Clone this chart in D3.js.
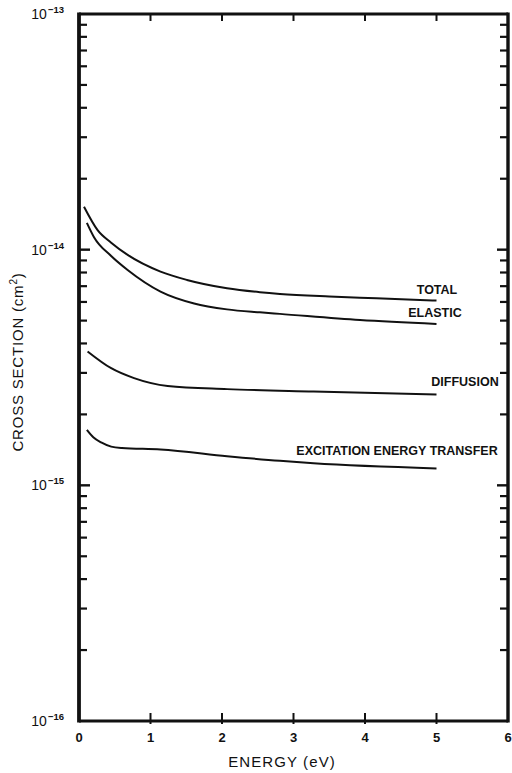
<!DOCTYPE html>
<html>
<head>
<meta charset="utf-8">
<script src="https://cdn.jsdelivr.net/npm/d3@7"></script>
<style>
  html, body { margin: 0; padding: 0; background: #fff; }
  svg { display: block; }
  text { font-family: "Liberation Sans", Arial, sans-serif; fill: #111; }
</style>
</head>
<body>
<svg id="chart" width="512" height="773"></svg>
<script>
// Energy grid (eV) and cross sections (cm^2) for each process
const totalE     = [0.07, 0.26, 0.45, 0.68, 1.14, 1.51, 2.07, 2.53, 2.81, 3.5, 4.16, 5.0];
const totalV     = [1.52e-14, 1.21e-14, 1.07e-14, 9.5e-15, 8.07e-15, 7.44e-15, 6.86e-15, 6.6e-15, 6.49e-15, 6.33e-15, 6.22e-15, 6.08e-15];

const elasticE   = [0.11, 0.21, 0.45, 0.68, 1.14, 1.61, 2.07, 2.53, 2.81, 3.93, 5.0];
const elasticV   = [1.30e-14, 1.13e-14, 9.4e-15, 8.2e-15, 6.64e-15, 5.91e-15, 5.58e-15, 5.42e-15, 5.34e-15, 5.03e-15, 4.84e-15];

const diffusionE = [0.12, 0.45, 0.77, 1.24, 2.07, 3.28, 5.0];
const diffusionV = [3.70e-15, 3.14e-15, 2.85e-15, 2.64e-15, 2.56e-15, 2.50e-15, 2.43e-15];

const excitE     = [0.11, 0.2, 0.31, 0.45, 0.6, 1.14, 2.07, 2.81, 3.28, 5.0];
const excitV     = [1.72e-15, 1.60e-15, 1.52e-15, 1.46e-15, 1.44e-15, 1.42e-15, 1.33e-15, 1.27e-15, 1.24e-15, 1.18e-15];

const seriesNames = ["TOTAL", "ELASTIC", "DIFFUSION", "EXCITATION ENERGY TRANSFER"];

const xTicks = [0, 1, 2, 3, 4, 5, 6];
const yDecades = [-16, -15, -14, -13];

const svg = d3.select("#chart");
const x = d3.scaleLinear().domain([0, 6]).range([79, 508]);
const y = d3.scaleLog().domain([1e-16, 1e-13]).range([721, 14]);

const [x0, x1] = x.range();
const [yb, yt] = y.range();
const ink = "#111";

// minor ticks at 2..9 within each decade
const minor = [];
for (let d = -16; d < -13; d++) {
  for (let m = 2; m <= 9; m++) minor.push(m * Math.pow(10, d));
}
const majors = yDecades.slice(1, 3).map(d => Math.pow(10, d));

const g = svg.append("g");

// inner ticks on left and right frame edges
g.selectAll("line.ltick").data(minor).join("line").attr("class", "ltick")
  .attr("x1", x0).attr("x2", x0 + 8)
  .attr("y1", d => y(d)).attr("y2", d => y(d))
  .attr("stroke", ink).attr("stroke-width", 2.2);
g.selectAll("line.rtick").data(minor).join("line").attr("class", "rtick")
  .attr("x1", x1).attr("x2", x1 - 8)
  .attr("y1", d => y(d)).attr("y2", d => y(d))
  .attr("stroke", ink).attr("stroke-width", 2.2);
g.selectAll("line.lmaj").data(majors).join("line").attr("class", "lmaj")
  .attr("x1", x0).attr("x2", x0 + 11)
  .attr("y1", d => y(d)).attr("y2", d => y(d))
  .attr("stroke", ink).attr("stroke-width", 2.4);
g.selectAll("line.rmaj").data(majors).join("line").attr("class", "rmaj")
  .attr("x1", x1).attr("x2", x1 - 11)
  .attr("y1", d => y(d)).attr("y2", d => y(d))
  .attr("stroke", ink).attr("stroke-width", 2.4);

// ticks on top and bottom edges
const innerX = xTicks.slice(1, -1);
g.selectAll("line.btick").data(innerX).join("line").attr("class", "btick")
  .attr("x1", d => x(d)).attr("x2", d => x(d))
  .attr("y1", yb + 3).attr("y2", yb - 8)
  .attr("stroke", ink).attr("stroke-width", 2);
g.selectAll("line.ttick").data(innerX).join("line").attr("class", "ttick")
  .attr("x1", d => x(d)).attr("x2", d => x(d))
  .attr("y1", yt).attr("y2", yt + 7)
  .attr("stroke", ink).attr("stroke-width", 2);

// frame
g.append("line").attr("x1", x0).attr("x2", x0).attr("y1", yt - 1.5).attr("y2", yb + 1.5)
  .attr("stroke", ink).attr("stroke-width", 3.8);
g.append("line").attr("x1", x1).attr("x2", x1).attr("y1", yt - 1.5).attr("y2", yb + 1.5)
  .attr("stroke", ink).attr("stroke-width", 3.4);
g.append("line").attr("x1", x0).attr("x2", x1).attr("y1", yt).attr("y2", yt)
  .attr("stroke", ink).attr("stroke-width", 3);
g.append("line").attr("x1", x0).attr("x2", x1).attr("y1", yb).attr("y2", yb)
  .attr("stroke", ink).attr("stroke-width", 3);

// x tick labels
g.selectAll("text.xl").data(xTicks).join("text").attr("class", "xl")
  .attr("x", d => x(d)).attr("y", yb + 21)
  .attr("text-anchor", "middle")
  .attr("font-size", 13).attr("font-weight", "bold")
  .text(d => d);

// y tick labels: 10 with superscript exponent
yDecades.forEach(d => {
  const t = g.append("text")
    .attr("x", 64).attr("y", y(Math.pow(10, d)) + 5)
    .attr("text-anchor", "end")
    .attr("font-size", 14);
  t.append("tspan").text("10");
  t.append("tspan").attr("dx", 1).attr("dy", -6).attr("font-size", 9.5).attr("font-weight", "bold").text("\u2212" + (-d));
});

// axis titles
svg.append("text")
  .attr("x", 282).attr("y", 767)
  .attr("text-anchor", "middle").attr("font-size", 15)
  .attr("letter-spacing", 1.1)
  .text("ENERGY (eV)");
const yTitle = svg.append("text")
  .attr("transform", "translate(23,362) rotate(-90)")
  .attr("text-anchor", "middle").attr("font-size", 15)
  .attr("letter-spacing", 0.8);
yTitle.append("tspan").text("CROSS SECTION (cm");
yTitle.append("tspan").attr("dy", -6).attr("font-size", 10).text("2");
yTitle.append("tspan").attr("dy", 6).text(")");

// curves
const curves = [
  { e: totalE, v: totalV },
  { e: elasticE, v: elasticV },
  { e: diffusionE, v: diffusionV },
  { e: excitE, v: excitV }
];
const line = d3.line()
  .x(d => x(d[0])).y(d => y(d[1]))
  .curve(d3.curveMonotoneX);
g.selectAll("path.curve").data(curves).join("path").attr("class", "curve")
  .attr("d", c => line(c.e.map((e, i) => [e, c.v[i]])))
  .attr("fill", "none").attr("stroke", ink).attr("stroke-width", 2);

// curve labels
const labelPos = [
  { x: 437, y: 294 },
  { x: 435, y: 317 },
  { x: 465, y: 386 },
  { x: 397, y: 455 }
];
g.selectAll("text.lab").data(seriesNames).join("text").attr("class", "lab")
  .attr("x", (d, i) => labelPos[i].x).attr("y", (d, i) => labelPos[i].y)
  .attr("text-anchor", "middle")
  .attr("font-size", 12.5).attr("font-weight", "bold")
  .text(d => d);
</script>
</body>
</html>
